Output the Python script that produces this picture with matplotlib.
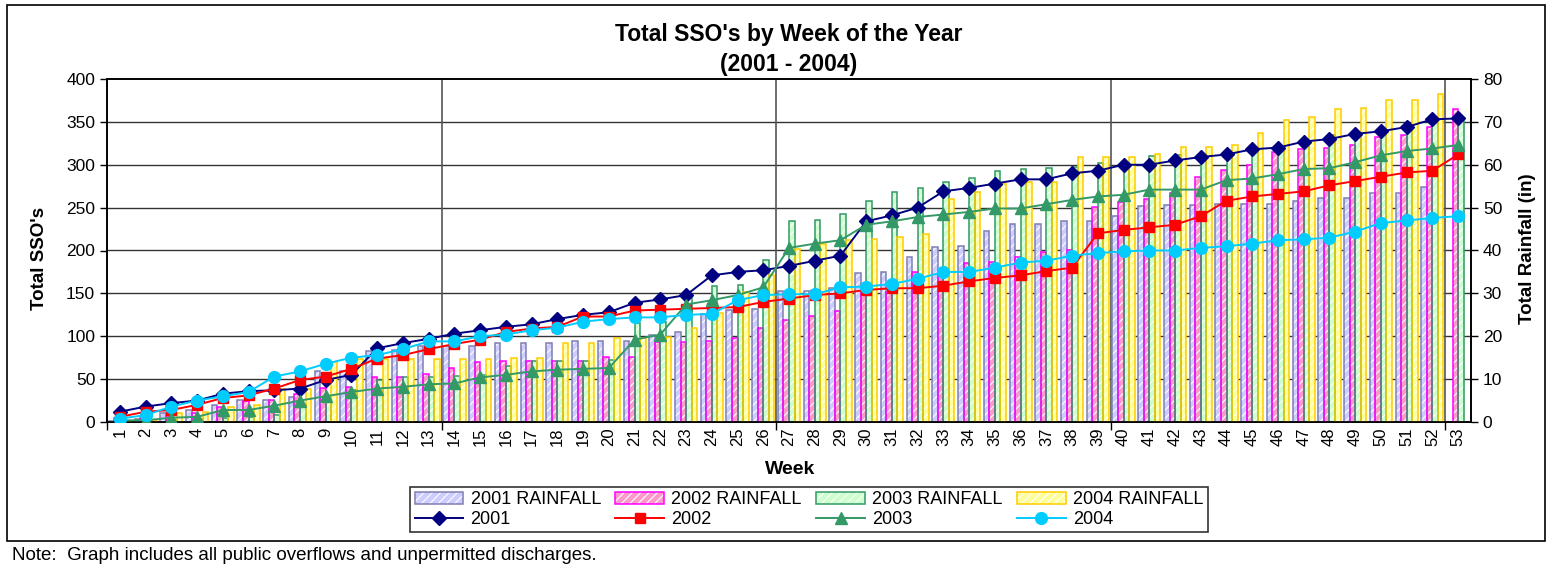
import numpy as np
import matplotlib
matplotlib.use('Agg')
import matplotlib.pyplot as plt
from matplotlib.patches import Patch, Rectangle
from matplotlib.lines import Line2D

plt.rcParams['font.family'] = ['Liberation Sans', 'DejaVu Sans']
plt.rcParams['hatch.linewidth'] = 0.8

weeks = list(range(1, 54))

sso_2001 = [12, 18, 22, 25, 33, 36, 37, 39, 49, 55, 86, 92, 97, 103, 107, 111, 114, 120, 125, 128,
            139, 143, 148, 171, 175, 177, 182, 188, 194, 234, 241, 250, 269, 273, 278, 283, 283, 290,
            293, 300, 300, 305, 309, 312, 318, 320, 327, 330, 336, 339, 344, 353, 354]
sso_2002 = [6, 12, 14, 20, 28, 31, 39, 49, 53, 62, 74, 78, 85, 91, 96, 105, 109, 111, 123, 123,
            130, 131, 132, 133, 134, 140, 144, 148, 150, 154, 156, 156, 159, 164, 168, 171, 176, 180,
            220, 224, 227, 230, 240, 258, 263, 266, 269, 276, 281, 286, 291, 293, 312]
sso_2003 = [2, 2, 5, 6, 14, 14, 19, 25, 30, 35, 39, 41, 44, 45, 52, 55, 59, 61, 62, 63,
            96, 102, 137, 142, 148, 157, 203, 208, 212, 230, 234, 239, 242, 245, 249, 249, 254, 259,
            263, 265, 271, 271, 271, 282, 284, 289, 295, 296, 303, 311, 316, 319, 323]
sso_2004 = [4, 8, 18, 25, 30, 35, 53, 59, 68, 75, 78, 85, 94, 94, 100, 102, 107, 110, 117, 120,
            122, 122, 125, 126, 142, 148, 149, 149, 157, 158, 161, 167, 175, 175, 180, 186, 188, 194,
            197, 199, 200, 200, 203, 205, 208, 212, 213, 215, 222, 232, 235, 238, 240]

rain_2001 = [0.3, 0.6, 2.2, 2.8, 4.0, 5.1, 5.1, 5.8, 11.9, 12.0, 16.6, 16.8, 17.8, 17.8, 17.8, 18.5,
             18.5, 18.5, 18.9, 18.9, 18.9, 20.3, 20.9, 25.3, 26.1, 26.4, 30.5, 30.5, 31.2, 34.7, 35.1,
             38.5, 40.8, 41.1, 44.6, 46.2, 46.2, 46.9, 46.9, 48.0, 50.3, 50.5, 50.7, 50.8, 50.8, 50.8,
             51.5, 52.2, 52.2, 53.3, 53.5, 54.8]
rain_2002 = [1.0, 1.0, 1.3, 2.0, 3.4, 5.0, 5.1, 6.5, 8.0, 8.2, 10.5, 10.6, 11.3, 12.5, 13.9, 14.2,
             14.2, 14.2, 14.2, 15.2, 15.2, 18.7, 18.7, 18.9, 19.7, 22.0, 23.7, 24.7, 26.0, 30.4, 30.4,
             35.1, 35.3, 37.1, 37.4, 38.5, 39.7, 40.0, 50.2, 51.3, 52.1, 53.5, 57.2, 58.8, 59.9, 63.0,
             63.7, 63.8, 64.5, 66.4, 67.0, 68.7, 72.9]
rain_2003 = [0.1, 0.2, 0.4, 0.6, 1.0, 1.2, 1.6, 4.0, 5.5, 7.5, 9.8, 10.6, 10.6, 10.7, 10.9, 13.1,
             14.2, 14.2, 14.2, 14.5, 23.2, 23.3, 29.0, 31.8, 32.0, 37.8, 46.9, 47.2, 48.6, 51.6, 53.6,
             54.6, 56.0, 57.0, 58.6, 59.0, 59.3, 59.5, 60.3, 60.5, 62.1, 62.3, 62.5, 62.8, 63.0, 64.0,
             65.5, 67.0, 67.5, 68.5, 69.0, 69.8, 70.2]
rain_2004 = [0.2, 0.5, 2.2, 2.4, 3.4, 4.0, 7.6, 7.8, 14.1, 14.6, 14.6, 14.6, 14.6, 14.6, 14.6, 14.9,
             14.9, 18.5, 18.5, 19.5, 19.5, 19.9, 22.0, 25.5, 30.4, 34.3, 40.3, 41.5, 42.4, 42.6, 43.2,
             43.8, 52.0, 53.6, 55.4, 56.0, 56.0, 61.7, 61.7, 61.8, 62.4, 64.1, 64.2, 64.5, 67.4, 70.5,
             71.1, 72.9, 73.2, 75.2, 75.2, 76.6]

W, H = 1552, 574
fig = plt.figure(figsize=(W / 100, H / 100), dpi=100)
L, R, T, B = 107, 1471, 79, 422
ax = fig.add_axes([L / W, 1 - B / H, (R - L) / W, (B - T) / H])
ax2 = ax.twinx()
ax.set_zorder(ax2.get_zorder() + 1)
ax.patch.set_visible(False)

rain_styles = [
    (rain_2001, '#CCCCFF', '#7F7FB0', '2001 RAINFALL'),
    (rain_2002, '#FF99CC', '#FF00FF', '2002 RAINFALL'),
    (rain_2003, '#CCFFCC', '#339966', '2003 RAINFALL'),
    (rain_2004, '#FFFF99', '#FFCC00', '2004 RAINFALL'),
]
bw = 0.215
rain_handles = []
for i, (vals, fc, ec, lab) in enumerate(rain_styles):
    x = np.arange(1, len(vals) + 1) + (i - 1.5) * bw
    ax2.bar(x, vals, width=bw, color=fc, edgecolor='white', hatch='////', linewidth=0, zorder=2)
    ax2.bar(x, vals, width=bw, fill=False, edgecolor=ec, linewidth=1.1, zorder=3)
    rain_handles.append((Patch(facecolor=fc, edgecolor='white', hatch='////', linewidth=0),
                         Patch(facecolor='none', edgecolor=ec, linewidth=1.1)))

line_styles = [
    (sso_2001, '#000080', 'D', 7, '2001'),
    (sso_2002, '#FF0000', 's', 7.5, '2002'),
    (sso_2003, '#339966', '^', 8.5, '2003'),
    (sso_2004, '#00CCFF', 'o', 8.5, '2004'),
]
line_handles = []
for vals, c, m, ms, lab in line_styles:
    ax.plot(weeks, vals, color=c, marker=m, ms=ms, lw=1.4, mec=c, mfc=c, zorder=5)
    line_handles.append(Line2D([], [], color=c, marker=m, ms=ms, lw=1.4))

ax.set_xlim(0.5, 53.5)
ax.set_ylim(0, 400)
ax2.set_ylim(0, 80)
ax.set_yticks(range(0, 401, 50))
ax2.set_yticks(range(0, 81, 10))
ax.set_xticks(weeks)
ax.set_xticklabels([str(w) for w in weeks], rotation=90, fontsize=12)
ax.set_xticks([0.5, 13.5, 26.5, 39.5, 52.5], minor=True)
ax.tick_params(axis='x', which='major', length=0, pad=4)
ax.tick_params(axis='x', which='minor', length=6, direction='out', width=1)
ax.tick_params(axis='y', labelsize=12.5, length=5, width=1)
ax2.tick_params(axis='y', labelsize=12.5, length=5, width=1)

for yv in range(50, 400, 50):
    ax2.axhline(yv / 5, color='#333333', lw=1, zorder=1)
for xv in [13.5, 26.5, 39.5, 52.5]:
    ax2.axvline(xv, color='#555555', lw=1.2, zorder=1)

for a in (ax, ax2):
    for s in a.spines.values():
        s.set_color('black')
        s.set_linewidth(1.2)

fig.text(789 / W, 1 - 35 / H, "Total SSO's by Week of the Year", ha='center', va='center',
         fontsize=16.5, fontweight='bold')
fig.text(789 / W, 1 - 64 / H, "(2001 - 2004)", ha='center', va='center',
         fontsize=16.5, fontweight='bold')
fig.text(40 / W, 1 - 258 / H, "Total SSO's", rotation=90, ha='center', va='center',
         fontsize=13.5, fontweight='bold')
fig.text(1527 / W, 1 - 249 / H, "Total Rainfall (in)", rotation=90, ha='center', va='center',
         fontsize=13.5, fontweight='bold')
fig.text(790 / W, 1 - 470 / H, "Week", ha='center', va='center', fontsize=14, fontweight='bold')
fig.text(12 / W, 1 - 556 / H, "Note:  Graph includes all public overflows and unpermitted discharges.",
         ha='left', va='center', fontsize=13.5)

handles, labels = [], []
for i in range(4):
    handles += [rain_handles[i], line_handles[i]]
    labels += [rain_styles[i][3], line_styles[i][4]]
leg = fig.legend(handles, labels, ncol=4, loc='center', bbox_to_anchor=(809 / W, 1 - 509.5 / H),
                 bbox_transform=fig.transFigure, frameon=True, fancybox=False, fontsize=13,
                 handlelength=2.7, columnspacing=0.8, handletextpad=0.4, borderpad=0.25,
                 labelspacing=0.15)
leg.get_frame().set_edgecolor('black')
leg.get_frame().set_linewidth(1.2)

fig.patches.append(Rectangle((7 / W, 1 - 541 / H), (1545 - 7) / W, (541 - 5) / H,
                             transform=fig.transFigure, fill=False, edgecolor='black', lw=1.2))

fig.savefig('out.png', dpi=100)
